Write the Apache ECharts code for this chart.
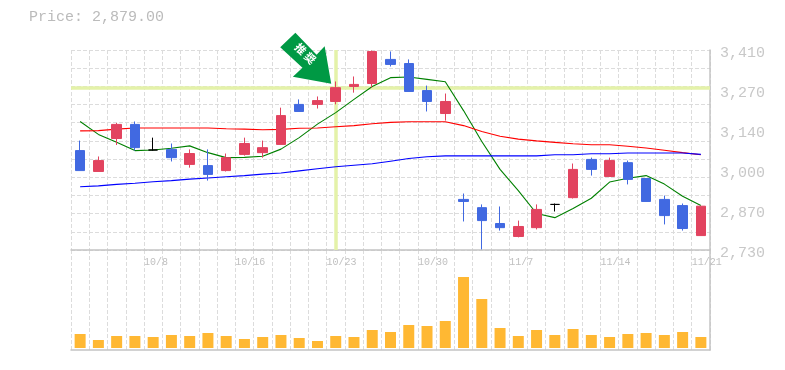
<!DOCTYPE html>
<html><head><meta charset="utf-8">
<style>html,body{margin:0;padding:0;background:#fff}#c{width:785px;height:370px}</style>
<script src="https://cdn.jsdelivr.net/npm/echarts@6/dist/echarts.min.js"></script>
</head><body><div id="c"></div>
<script>
const dates=['10/2','10/3','10/4','10/7','10/8','10/9','10/10','10/11','10/15','10/16','10/17','10/18','10/21','10/22','10/23','10/24','10/25','10/28','10/29','10/30','10/31','11/1','11/5','11/6','11/7','11/8','11/11','11/12','11/13','11/14','11/15','11/18','11/19','11/20','11/21'];
const opens =[3068,2997,3109,3157,3070,3072,3021,3017,3000,3055,3061,3089,3225,3225,3235,3286,3296,3378,3364,3272,3194,2902,2874,2820,2776,2806,2885,2908,3038,2980,3027,2973,2902,2881,2779];
const closes=[3000,3034,3157,3078,3070,3044,3058,2987,3044,3092,3078,3187,3201,3238,3282,3293,3405,3361,3269,3235,3235,2895,2830,2806,2810,2868,2885,3004,3004,3034,2970,2895,2847,2803,2879];
const lows  =[3000,2997,3087,3068,3068,3031,3010,2966,2997,3051,3044,3089,3201,3211,3225,3265,3282,3354,3269,3201,3170,2827,2732,2796,2773,2800,2861,2905,2983,2980,2953,2895,2817,2796,2779];
const highs =[3102,3048,3162,3167,3112,3092,3072,3072,3058,3112,3102,3214,3242,3252,3303,3320,3408,3405,3378,3289,3262,2922,2885,2878,2830,2885,2888,3024,3044,3044,3034,2973,2915,2888,2879];
const maShort=[3167,3123,3096,3068,3070,3076,3084,3061,3044,3045,3049,3073,3112,3158,3197,3242,3286,3316,3318,3310,3302,3204,3099,3004,2932,2854,2840,2871,2906,2961,2974,2983,2954,2913,2881];
const maMid  =[3135,3136,3141,3145,3145,3145,3145,3145,3142,3141,3139,3140,3144,3145,3149,3153,3159,3164,3166,3166,3166,3153,3133,3117,3107,3101,3096,3091,3088,3088,3083,3077,3069,3061,3054];
const maLong =[2945,2948,2953,2957,2962,2966,2971,2975,2979,2983,2988,2992,2999,3006,3013,3018,3023,3032,3041,3047,3050,3050,3050,3050,3050,3050,3054,3054,3057,3057,3060,3060,3060,3060,3055];
const volumes=[14,8,12,12,11,13,12,15,12,9,11,13,10,7,12,11,18,16,23,22,27,71,49,20,12,18,13,19,13,11,14,15,13,16,11];
const priceTicks=['2,730','2,870','3,000','3,140','3,270','3,410'];
const labelDates=['10/8','10/16','10/23','10/30','11/7','11/14','11/21'];
const priceMin=2730, priceMax=3410;
const markDate='10/23', markPrice=3282, markText='推\u2009奨';
const lastPrice='2,879.00';

const MONO='"Liberation Mono",monospace';
const grid={type:'dashed',color:'#dcdcdc',width:1};
const edge={lineStyle:{color:'#c4c4c4',width:1.5}};
const candleData=dates.map((d,i)=>{
  const v=[opens[i],closes[i],lows[i],highs[i]];
  return opens[i]===closes[i]?{value:v,itemStyle:{borderColor:'#000',borderColor0:'#000',borderColorDoji:'#000'}}:v;
});
const line=(name,data,color)=>({name,type:'line',data,xAxisIndex:0,yAxisIndex:0,symbol:'none',z:2,silent:true,lineStyle:{color,width:1.1}});
const option={
  animation:false,backgroundColor:'#fff',
  title:{text:'Price: '+lastPrice,left:24,top:5,textStyle:{fontFamily:MONO,fontSize:15,fontWeight:'normal',color:'#bbbbbb'}},
  grid:[{left:71,top:50,width:639,height:200},{left:71,top:250,width:639,height:100},{left:71,top:53,width:639,height:200}],
  xAxis:[
    {type:'category',gridIndex:0,data:dates,boundaryGap:true,axisLine:{show:true,...edge},axisTick:{show:false},axisLabel:{show:false},splitLine:{show:true,interval:0,lineStyle:grid}},
    {type:'category',gridIndex:1,data:dates,boundaryGap:true,axisLine:{show:true,onZero:false,...edge},axisTick:{show:false},axisLabel:{show:false},splitLine:{show:true,interval:0,lineStyle:grid}},
    {type:'category',gridIndex:0,position:'bottom',data:dates.concat(''),boundaryGap:false,axisLine:{show:false},axisTick:{show:false},splitLine:{show:false},
     axisLabel:{show:true,align:'left',margin:7,fontFamily:MONO,fontSize:10,color:'#c0c0c0',interval:(i,v)=>labelDates.includes(v)}},
    {type:'category',gridIndex:2,data:dates,show:false}
  ],
  yAxis:[
    {type:'value',gridIndex:0,min:priceMin,max:priceMax,show:false},
    {type:'value',gridIndex:0,position:'right',min:0,max:11,interval:1,axisLine:{show:true,...edge},axisTick:{show:false},axisLabel:{show:false},splitLine:{show:true,lineStyle:grid}},
    {type:'value',gridIndex:2,position:'right',min:0,max:5,interval:1,axisLine:{show:false},axisTick:{show:false},splitLine:{show:false},
     axisLabel:{margin:10,fontFamily:MONO,fontSize:15,color:'#c8c8c8',formatter:(v)=>priceTicks[v]}},
    {type:'value',gridIndex:1,position:'right',min:-2,max:98,axisLine:{show:true,...edge},axisTick:{show:false},axisLabel:{show:false},splitLine:{show:false}}
  ],
  series:[
    line('short',maShort,'#008000'),
    line('mid',maMid,'#ff0000'),
    line('long',maLong,'#0000ff'),
    {name:'price',type:'candlestick',xAxisIndex:0,yAxisIndex:0,data:candleData,barWidth:10,z:3,silent:true,
     itemStyle:{color:'#e2435f',color0:'#4169e1',borderColor:'#e2435f',borderColor0:'#4169e1',borderWidth:1},
     markLine:{silent:true,z:1,symbol:'none',animation:false,label:{show:false},lineStyle:{color:'#e4f2a9',width:3.5,type:'solid'},
       data:[{xAxis:markDate},{yAxis:markPrice}]},
     markPoint:{silent:true,z:10,animation:false,data:[{coord:[markDate,markPrice],symbol:'path://M0.5 14.7L15.5 0L36.5 22L44.5 13.7L51 51L13 44L22.5 35Z',symbolSize:[51,51],symbolOffset:[-30,-29.5],
       itemStyle:{color:'#009944'},label:{show:true,formatter:markText,position:'inside',offset:[-3.5,-3],rotate:-45,color:'#fff',fontSize:11,fontWeight:'bold',fontFamily:'"Noto Sans CJK JP"'}}]}},
    {name:'volume',type:'bar',xAxisIndex:1,yAxisIndex:3,data:volumes,barWidth:11,silent:true,itemStyle:{color:'#ffb833'}}
  ]
};
echarts.init(document.getElementById('c'),null,{renderer:'canvas'}).setOption(option);
</script></body></html>
